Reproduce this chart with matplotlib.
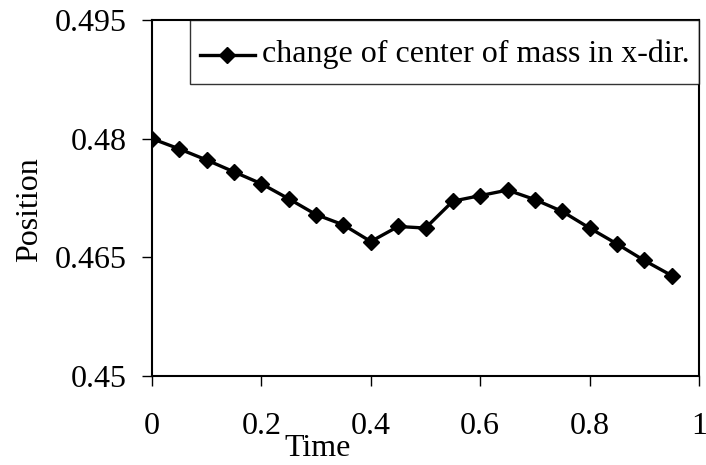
import matplotlib
matplotlib.use("Agg")
import matplotlib.pyplot as plt

# Center-of-mass x position sampled over time
time = [0.0, 0.05, 0.1, 0.15, 0.2, 0.25, 0.3, 0.35, 0.4, 0.45,
        0.5, 0.55, 0.6, 0.65, 0.7, 0.75, 0.8, 0.85, 0.9, 0.95]
position = [0.4800, 0.4787, 0.4773, 0.4758, 0.4743, 0.4724, 0.4704, 0.4691, 0.4670, 0.4689,
            0.4687, 0.4721, 0.4728, 0.4735, 0.4723, 0.4708, 0.4687, 0.4667, 0.4646, 0.4627]

x_ticks = [0, 0.2, 0.4, 0.6, 0.8, 1]
x_tick_labels = ["0", "0.2", "0.4", "0.6", "0.8", "1"]
y_ticks = [0.45, 0.465, 0.48, 0.495]
y_tick_labels = ["0.45", "0.465", "0.48", "0.495"]
series_label = "change of center of mass in x-dir."

plt.rcParams["font.family"] = ["Liberation Serif", "DejaVu Serif"]

W, H = 706, 465
fig = plt.figure(figsize=(W / 100, H / 100), dpi=100)
left, right, top, bottom = 152, 699, 20, 376
ax = fig.add_axes([left / W, 1 - bottom / H, (right - left) / W, (bottom - top) / H])

ax.plot(time, position, color="black", linewidth=2.4, marker="D",
        markersize=7.8, markerfacecolor="black", markeredgecolor="black",
        label=series_label)

ax.set_xlim(0, 1)
ax.set_ylim(0.45, 0.495)
ax.set_xticks(x_ticks)
ax.set_xticklabels(x_tick_labels)
ax.set_yticks(y_ticks)
ax.set_yticklabels(y_tick_labels)

ax.tick_params(axis="both", direction="out", length=7, width=1.0,
               labelsize=23, colors="black")
ax.tick_params(axis="x", pad=19)
ax.tick_params(axis="y", pad=11)

for sp in ax.spines.values():
    sp.set_linewidth(1.5)
    sp.set_color("black")

ax.set_xlabel("Time", fontsize=23)
ax.xaxis.set_label_coords(0.302, -0.163)
ax.set_ylabel("Position", fontsize=23)
ax.yaxis.set_label_coords(-0.198, 0.466)

leg = ax.legend(loc="upper right", bbox_to_anchor=(1.0, 1.0),
                borderaxespad=0.0, fontsize=23, frameon=True, fancybox=False,
                handlelength=1.75, handleheight=1.8, handletextpad=0.2,
                borderpad=0.3)
leg.get_frame().set_edgecolor("black")
leg.get_frame().set_linewidth(1.0)

# Put the legend sample line level with the middle of the lowercase text
handle = leg.legend_handles[0]
handle.set_ydata([5.5] * len(handle.get_ydata()))

fig.savefig("out.png", dpi=100)
